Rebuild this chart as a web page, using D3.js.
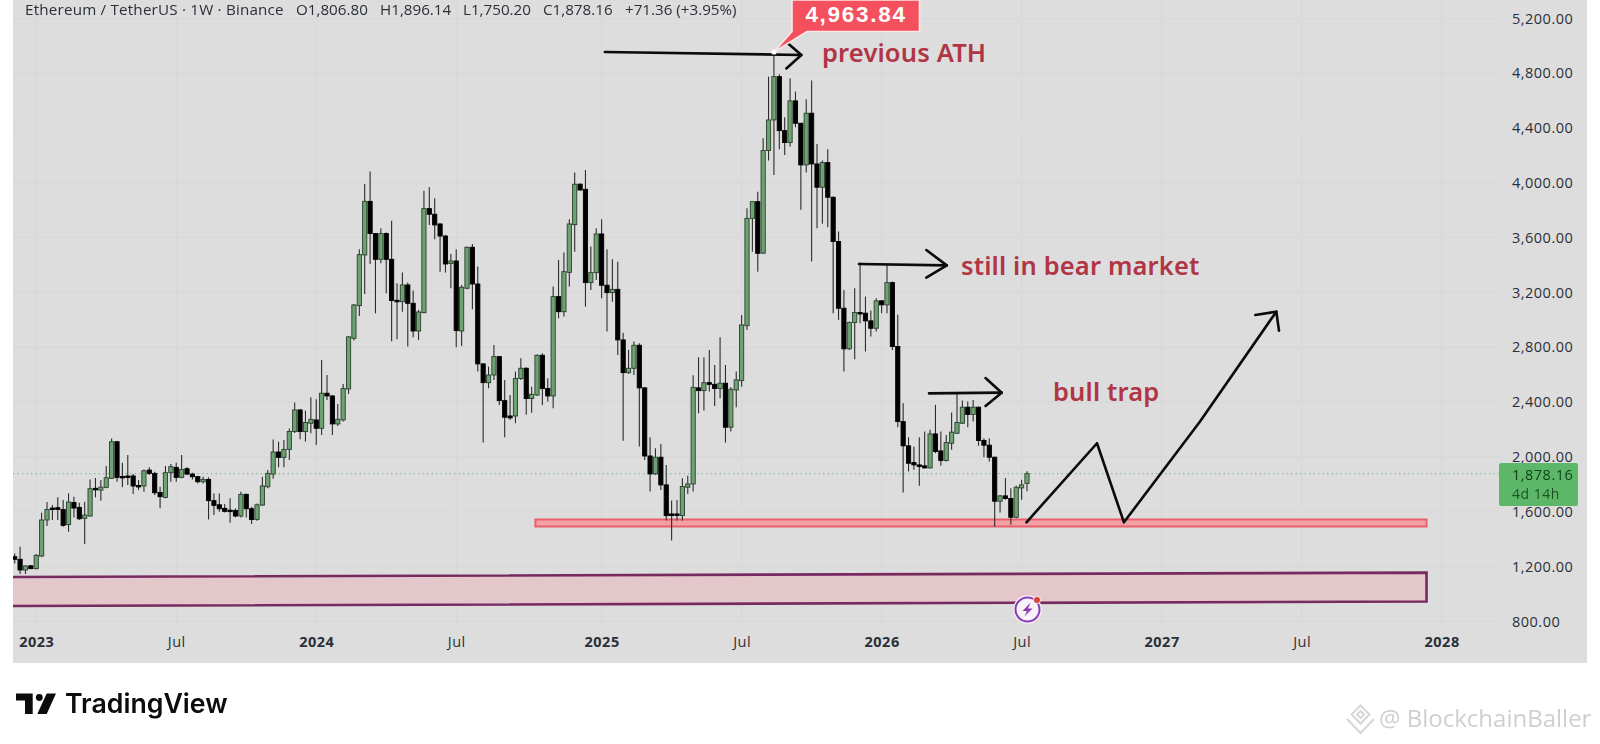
<!DOCTYPE html>
<html lang="en">
<head>
<meta charset="UTF-8">
<title>ETHUSDT weekly</title>
<script src="https://d3js.org/d3.v7.min.js"></script>
<style>
    html, body { margin: 0; padding: 0; background: #fff; overflow: hidden; }
    svg { display: block; filter: blur(0.4px); }
    text { font-family: "Open Sans", sans-serif; }
    .tick text { font-size: 14.5px; fill: #2b2f38; letter-spacing: 0.5px; }
    .note { font-family: "Noto Sans", sans-serif; font-weight: 600; font-size: 25.5px; fill: #b03545; letter-spacing: 0.15px; }
</style>
</head>
<body>
<script>
// weekly candles
const opens = [
    1272,1253,1175,1206,1185,1277,1540,1627,1630,1617,
    1506,1668,1632,1552,1569,1771,1758,1778,1844,2111,
    1858,1861,1861,1792,1788,1904,1880,1741,1705,1885,
    1924,1851,1914,1875,1856,1819,1836,1681,1651,1625,
    1612,1610,1569,1727,1622,1544,1649,1783,1875,2036,
    1997,2055,2185,2343,2185,2246,2270,2209,2465,2445,
    2241,2270,2496,2866,3104,3474,3865,3630,3442,3630,
    3442,3143,3133,3255,3121,2919,3053,3812,3771,3700,
    3612,3411,3430,2919,3231,3530,3262,2679,2542,2598,
    2732,2411,2299,2299,2572,2647,2426,2452,2742,2499,
    2445,3170,3060,3347,3695,3990,3953,3272,3345,3627,
    3253,3199,3223,2854,2615,2647,2815,2504,2007,1876,
    1998,1796,1584,1584,1572,1779,1803,2504,2484,2542,
    2530,2499,2538,2217,2489,2557,2958,3741,3863,3487,
    4236,4459,4775,4381,4294,4598,4435,4131,4508,4138,
    3968,4148,3895,3572,3085,2789,2981,3054,3049,2993,
    2939,3139,3110,3272,2806,2258,2081,1959,1942,1935,
    1920,2168,2044,1974,2100,2173,2246,2363,2310,2363,
    2120,2086,1998,1677,1716,1697,1560,1774,1806.80
];
const highs = [
    1296,1345,1211,1211,1291,1593,1671,1649,1705,1685,
    1734,1710,1666,1673,1836,1846,1831,1934,2135,2116,
    1958,2014,1875,1831,1909,1924,1892,1783,1934,1948,
    1958,2014,1924,1885,1861,1856,1851,1734,1734,1656,
    1698,1625,1746,1734,1637,1661,1856,1904,2128,2111,
    2123,2208,2397,2348,2338,2435,2421,2708,2598,2452,
    2387,2533,2883,3116,3515,3992,4082,3632,3668,3637,
    3724,3267,3345,3272,3214,3073,3943,3968,3887,3705,
    3620,3481,3515,3255,3535,3554,3389,2684,2659,2817,
    2737,2562,2452,2623,2720,2654,2513,2747,2756,2574,
    3243,3437,3491,3734,4075,3997,4094,3535,3668,3734,
    3515,3442,3425,2907,2781,2842,2829,2508,2144,2063,
    2095,1942,1682,1686,1844,1862,2596,2727,2727,2781,
    2671,2873,2671,2508,2623,3036,3814,3863,3936,4326,
    4775,4964,4792,4479,4763,4666,4435,4610,4746,4284,
    4163,4245,3900,3645,3219,2988,3231,3418,3170,3068,
    3158,3146,3409,3280,3037,2392,2144,2076,2144,2185,
    2198,2380,2185,2161,2324,2465,2412,2404,2416,2368,
    2137,2137,2003,1723,1845,1772,1789,1833,1896.14
];
const lows = [
    1223,1146,1146,1180,1180,1270,1496,1540,1540,1491,
    1454,1559,1540,1364,1564,1705,1681,1771,1841,1819,
    1778,1795,1729,1758,1746,1868,1722,1625,1698,1819,
    1819,1844,1868,1836,1807,1807,1544,1576,1600,1595,
    1520,1559,1559,1559,1510,1535,1642,1771,1841,1924,
    1924,1977,2175,2129,2112,2173,2088,2161,2416,2161,
    2226,2258,2460,2849,3029,3189,3408,3048,3413,3194,
    2844,2859,3060,2805,2873,2854,3048,3693,3588,3352,
    3345,3231,2800,2810,3223,3077,2623,2105,2501,2562,
    2379,2144,2270,2246,2562,2307,2323,2445,2379,2404,
    2355,3012,3024,3243,3498,3943,3097,3219,3292,3158,
    2915,3133,2744,2119,2606,2598,2076,1978,1747,1869,
    1759,1536,1390,1536,1536,1730,1747,2319,2338,2477,
    2372,2428,2105,2185,2362,2513,2927,3498,3352,3480,
    4163,4058,4245,4204,4265,4406,3803,4075,3426,3669,
    3701,3676,3049,3000,2623,2781,2713,2976,2769,2878,
    2915,3049,3049,2781,2217,1740,1894,1906,1789,1916,
    1916,2027,1935,1967,2052,2168,2241,2217,2258,2081,
    1998,1967,1492,1594,1687,1505,1553,1687,1750.20
];
const closes = [
    1253,1175,1204,1185,1282,1540,1617,1617,1617,1501,
    1671,1627,1549,1576,1768,1761,1780,1848,2111,1851,
    1853,1853,1788,1783,1899,1880,1739,1710,1885,1929,
    1851,1909,1875,1856,1819,1836,1681,1647,1622,1603,
    1608,1569,1727,1622,1544,1651,1788,1880,2036,1997,
    2055,2186,2343,2185,2251,2275,2209,2465,2445,2241,
    2275,2499,2876,3109,3476,3865,3630,3442,3630,3442,
    3141,3133,3255,3121,2919,3058,3812,3771,3693,3612,
    3408,3430,2922,3238,3530,3262,2679,2542,2598,2732,
    2411,2290,2285,2572,2647,2426,2457,2742,2499,2445,
    3170,3060,3352,3700,3990,3948,3272,3345,3627,3253,
    3199,3223,2854,2615,2647,2815,2504,2007,1876,1998,
    1796,1572,1572,1577,1784,1803,2508,2484,2542,2530,
    2499,2538,2217,2494,2562,2963,3741,3863,3486,4236,
    4459,4775,4381,4294,4598,4435,4131,4508,4138,3968,
    4148,3895,3572,3085,2789,2981,3054,3044,2993,2939,
    3139,3110,3272,2806,2258,2081,1954,1942,1930,1920,
    2168,2040,1974,2105,2181,2251,2363,2310,2363,2120,
    2086,1998,1677,1716,1697,1560,1779,1796,1878.16
];

const priceTicks = [5200,4800,4400,4000,3600,3200,2800,2400,2000,1600,1200,800];
const timeLabels = ["2023","Jul","2024","Jul","2025","Jul","2026","Jul","2027","Jul","2028"];
const timeBars = [4,30,56,82,109,135,161,187,213,239,265];
const lastPrice = 1878.16;
const headerText = "Ethereum / TetherUS \u00b7 1W \u00b7 Binance";
const ohlcText = ["O1,806.80","H1,896.14","L1,750.20","C1,878.16","+71.36 (+3.95%)"];
const ohlcLeft = [296,380,463,543,625];

// drawings, [bar index, price]
const athArrow = [[[109.6,4955],[146.1,4933]], [[143.3,5028],[146.1,4933],[143.3,4835]]];
const bearArrow = [[[156.8,3408],[173.1,3398]], [[169.3,3510],[173.1,3398],[169.3,3309]]];
const trapArrow = [[[169.8,2464],[183.3,2469]], [[180.3,2576],[183.3,2469],[180.3,2372]]];
const pathArrow = [[[187.9,1523],[201,2100],[206,1523],[220.1,2257],[234.3,3060]], [[230.4,3036],[234.3,3060],[234.8,2921]]];
const supportZone = [[96.7,1543],[262.2,1543],[262.2,1492],[96.7,1492]];
const lowerZone = [[-3,1124],[262.2,1156],[262.2,945],[-3,912]];

const width = 1600, height = 744;
const chartLeft = 13, chartRight = 1587, chartBottom = 663;

const x = d3.scaleLinear().domain([0, 188]).range([14.7, 1027]);
const y = d3.scaleLinear().domain([5200, 800]).range([18.4, 621.4]);
const line = d3.line().x(d => x(d[0])).y(d => y(d[1]));

const svg = d3.select("body").append("svg")
    .attr("width", width)
    .attr("height", height);

svg.append("defs").append("clipPath").attr("id", "plot")
    .append("rect")
    .attr("x", chartLeft).attr("y", 0)
    .attr("width", chartRight - chartLeft).attr("height", chartBottom);

svg.append("rect")
    .attr("x", chartLeft).attr("y", 0)
    .attr("width", chartRight - chartLeft).attr("height", chartBottom)
    .attr("fill", "#dddddd");

const plot = svg.append("g").attr("clip-path", "url(#plot)");

// grid
plot.append("g").selectAll("line").data(priceTicks).join("line")
    .attr("x1", chartLeft).attr("x2", 1500)
    .attr("y1", d => y(d)).attr("y2", d => y(d))
    .attr("stroke", "#d7d7d7");
plot.append("g").selectAll("line").data(timeBars).join("line")
    .attr("x1", d => x(d)).attr("x2", d => x(d))
    .attr("y1", 0).attr("y2", 628)
    .attr("stroke", "#d7d7d7");

plot.append("line")
    .attr("x1", chartLeft).attr("x2", 1499)
    .attr("y1", y(lastPrice)).attr("y2", y(lastPrice))
    .attr("stroke", "#7fb584").attr("stroke-dasharray", "1.5 3");

// zones
plot.append("path")
    .attr("d", line(lowerZone) + "Z")
    .attr("fill", "#e4c7ca")
    .attr("stroke", "#772a60").attr("stroke-width", 2.6);
plot.append("path")
    .attr("d", line(supportZone) + "Z")
    .attr("fill", "#f3a0a5")
    .attr("stroke", "#e9606c").attr("stroke-width", 2);

// candles
const candles = plot.append("g").selectAll("g").data(opens).join("g");
candles.append("line")
    .attr("x1", (d, i) => x(i)).attr("x2", (d, i) => x(i))
    .attr("y1", (d, i) => y(highs[i])).attr("y2", (d, i) => y(lows[i]))
    .attr("stroke", "#2c2c2c").attr("stroke-width", 1.1);
candles.append("rect")
    .attr("x", (d, i) => x(i) - 2.1)
    .attr("width", 4.2)
    .attr("y", (d, i) => y(Math.max(d, closes[i])))
    .attr("height", (d, i) => Math.max(1.5, Math.abs(y(d) - y(closes[i]))))
    .attr("fill", (d, i) => closes[i] >= d ? "#6ca371" : "#000")
    .attr("stroke", (d, i) => closes[i] >= d ? "#2a402e" : "#000")
    .attr("stroke-width", 0.9);

// hand drawn arrows
[athArrow, bearArrow, trapArrow, pathArrow].forEach(parts => {
    parts.forEach(p => {
        plot.append("path")
            .attr("d", line(p))
            .attr("fill", "none")
            .attr("stroke", "#0b0b0b")
            .attr("stroke-width", 2.6)
            .attr("stroke-linecap", "round")
            .attr("stroke-linejoin", "round");
    });
});

// high marker with its tail
const hiX = x(141), hiY = y(4955);
plot.append("path")
    .attr("d", `M${hiX},${hiY}L792,31.5V0H919.5V31.5H807Z`)
    .attr("fill", "#f5505e")
    .attr("stroke", "#fbe6e8").attr("stroke-width", 1.6);
plot.append("circle")
    .attr("cx", hiX).attr("cy", hiY).attr("r", 2.6).attr("fill", "#fff");
plot.append("text")
    .attr("x", 856).attr("y", 22)
    .attr("text-anchor", "middle")
    .attr("fill", "#fff")
    .style("font-family", "'Liberation Sans', sans-serif")
    .style("font-weight", 700).style("font-size", "22.5px").style("letter-spacing", "1.7px")
    .text("4,963.84");

plot.append("text").attr("class", "note").attr("x", 822).attr("y", 62).text("previous ATH");
plot.append("text").attr("class", "note").attr("x", 961).attr("y", 275).text("still in bear market");
plot.append("text").attr("class", "note").attr("x", 1053).attr("y", 401).text("bull trap");

// lightning badge
const bolt = svg.append("g").attr("transform", "translate(1027.5,609.5)");
bolt.append("circle").attr("r", 13.5).attr("fill", "#fff").attr("stroke", "#fbeffc").attr("stroke-width", 1.5);
bolt.append("circle").attr("r", 12).attr("fill", "#f8f3fb").attr("stroke", "#8a3fb0").attr("stroke-width", 2);
bolt.append("path").attr("d", "M3,-7 L-5,1.5 H-0.5 L-3,7 L5,-1 H0.5 Z").attr("fill", "#8a3fb0");
bolt.append("circle").attr("cx", 9.5).attr("cy", -9.5).attr("r", 3.6).attr("fill", "#d9443e").attr("stroke", "#f6e8ea");

// axes
const yAxis = svg.append("g")
    .attr("transform", "translate(1512,0)")
    .call(d3.axisRight(y).tickValues(priceTicks).tickSize(0).tickPadding(0).tickFormat(d3.format(",.2f")));
yAxis.select(".domain").remove();

const xAxis = svg.append("g")
    .attr("transform", "translate(0,637)")
    .call(d3.axisBottom(x).tickValues(timeBars).tickSize(0).tickPadding(0)
        .tickFormat((d, i) => timeLabels[i]));
xAxis.select(".domain").remove();
xAxis.selectAll("text")
    .style("font-weight", (d, i) => timeLabels[i] === "Jul" ? 400 : 700);

// last price box
svg.append("rect")
    .attr("x", 1499).attr("y", 463)
    .attr("width", 79).attr("height", 43)
    .attr("rx", 2)
    .attr("fill", "#5cb868");
svg.append("text")
    .attr("x", 1512).attr("y", 480)
    .attr("fill", "#123f18")
    .style("font-size", "14.5px").style("letter-spacing", "0.5px")
    .text(d3.format(",.2f")(lastPrice));
svg.append("text")
    .attr("x", 1512).attr("y", 499)
    .attr("fill", "#1c5324")
    .style("font-size", "14px").style("letter-spacing", "0.5px")
    .text("4d 14h");

// header
const header = svg.append("g")
    .attr("fill", "#2b2f38")
    .style("font-family", "Roboto, sans-serif")
    .style("font-size", "15.2px");
header.append("text").attr("x", 25).attr("y", 15).style("letter-spacing", "0.2px").text(headerText);
header.selectAll("text.ohlc").data(ohlcText).join("text")
    .attr("class", "ohlc")
    .attr("x", (d, i) => ohlcLeft[i])
    .attr("y", 15)
    .text(d => d);

// TradingView logo
const logo = svg.append("g").attr("fill", "#0c0c0c");
logo.append("path").attr("d", "M16,693.5H32.7V714H25V700.5H16Z");
logo.append("circle").attr("cx", 39.3).attr("cy", 697.5).attr("r", 3.4);
logo.append("path").attr("d", "M46.7,693.5H56L46.7,714H37.3Z");
svg.append("text")
    .attr("x", 65).attr("y", 713)
    .attr("fill", "#0c0c0c")
    .style("font-family", "Inter, sans-serif")
    .style("font-weight", 600).style("font-size", "26.7px")
    .text("TradingView");

// watermark
const mark = svg.append("g").attr("fill", "none").attr("stroke", "#d6d6d6").attr("stroke-width", 2);
mark.append("path").attr("d", "M1360.5,705.5l9,9l-9,9l-9,-9Z");
mark.append("path").attr("d", "M1360.5,711l3.5,3.5l-3.5,3.5l-3.5,-3.5Z");
mark.append("path").attr("d", "M1347,719l13.5,14l13.5,-14");
svg.append("text")
    .attr("x", 1379).attr("y", 727)
    .attr("fill", "#cfcfcf")
    .style("font-size", "24px")
    .text("@ BlockchainBaller");
</script>
</body>
</html>
